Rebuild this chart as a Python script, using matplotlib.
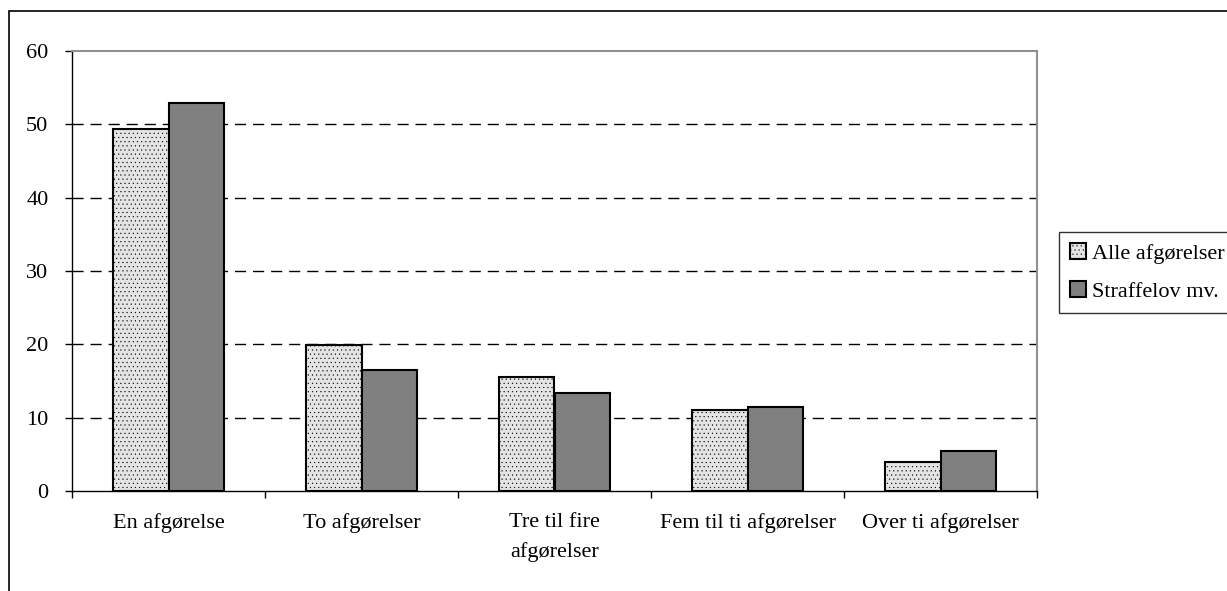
import numpy as np
import matplotlib
matplotlib.use("Agg")
import matplotlib.pyplot as plt
from matplotlib.patches import Rectangle

categories = ["En afgørelse", "To afgørelser", "Tre til fire\nafgørelser",
              "Fem til ti afgørelser", "Over ti afgørelser"]
alle = [49.3, 19.9, 15.5, 11.1, 4.0]
straffelov = [52.9, 16.5, 13.4, 11.4, 5.4]
series_names = ["Alle afgørelser", "Straffelov mv."]

plt.rcParams["font.family"] = ["Liberation Serif", "DejaVu Serif"]
plt.rcParams["hatch.color"] = "#d4d4d4"
plt.rcParams["hatch.linewidth"] = 0.3

fig = plt.figure(figsize=(12.27, 5.91), dpi=100)
ax = fig.add_axes([72 / 1227, 100 / 591, 965 / 1227, 440 / 591])

# outer chart frame (runs off the right/bottom edge in the original)
fig.patches.append(Rectangle((9 / 1227, -0.1), 1.2, 1.1 - 11 / 591,
                             transform=fig.transFigure, fill=False,
                             edgecolor="black", lw=1.2, zorder=0))

x = np.arange(len(categories))
w = 0.285
ax.bar(x - w / 2, alle, w, color="#e4e4e4", edgecolor="black", lw=1.5,
       hatch="....", label=series_names[0], zorder=3)
ax.bar(x + w / 2, straffelov, w, color="#808080", edgecolor="black", lw=1.5,
       label=series_names[1], zorder=3)

ax.set_xlim(-0.5, len(categories) - 0.5)
ax.set_ylim(0, 60)
ax.set_yticks(range(0, 61, 10))
for yv in range(10, 60, 10):
    ax.axhline(yv, color="black", lw=1, ls=(0, (8, 5)), zorder=1)

ax.set_xticks(np.arange(len(categories) + 1) - 0.5)
ax.set_xticklabels([])
ax.set_xticks(x, minor=True)
ax.set_xticklabels(categories, minor=True, fontsize=16, linespacing=1.68)
ax.tick_params(axis="x", which="minor", length=0, pad=16)
ax.tick_params(axis="x", which="major", length=5, width=1, direction="out")
ax.tick_params(axis="y", length=5, width=1, direction="out", labelsize=16, pad=12)

for s in ["top", "right"]:
    ax.spines[s].set_color("#909090")
    ax.spines[s].set_linewidth(1.5)
for s in ["left", "bottom"]:
    ax.spines[s].set_color("black")
    ax.spines[s].set_linewidth(1)

leg = fig.legend(loc="upper left", bbox_to_anchor=(1059 / 1227, 1 - 232 / 591),
                 fontsize=16, frameon=True, fancybox=False, edgecolor="black",
                 handlelength=0.7, handleheight=0.7, handletextpad=0.3,
                 borderpad=0.5, labelspacing=0.78, borderaxespad=0)
leg.get_frame().set_linewidth(1)

fig.savefig("out.png", dpi=100)
